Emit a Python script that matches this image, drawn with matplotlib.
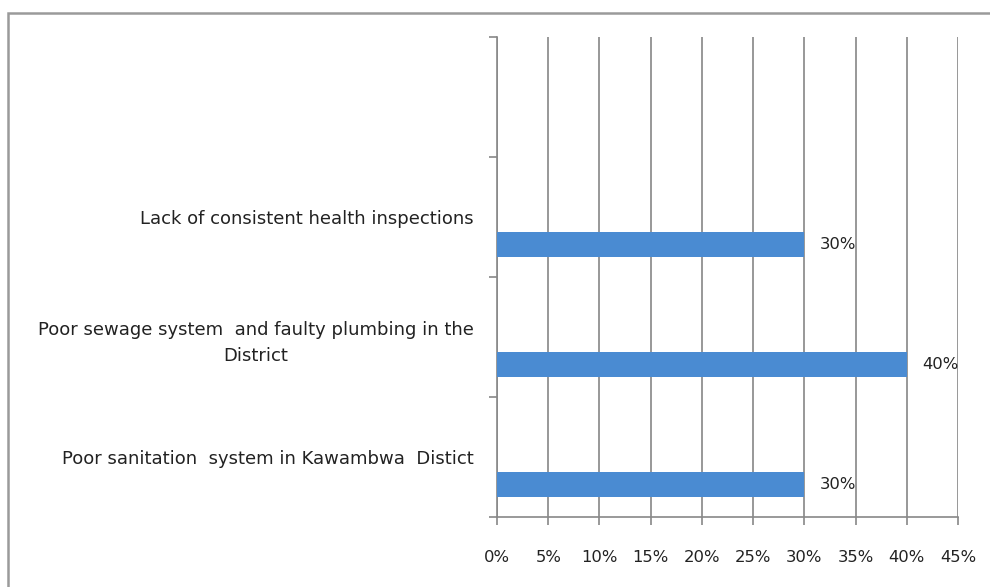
import matplotlib
matplotlib.use("Agg")
import matplotlib.pyplot as plt
import numpy as np
from matplotlib.patches import Rectangle

categories = ["Poor sanitation  system in Kawambwa  Distict",
              "Poor sewage system  and faulty plumbing in the\nDistrict",
              "Lack of consistent health inspections",
              ""]
values = [30, 40, 30]
value_labels = ["30%", "40%", "30%"]
xticks = [0, 5, 10, 15, 20, 25, 30, 35, 40, 45]
xtick_labels = ["0%", "5%", "10%", "15%", "20%", "25%", "30%", "35%", "40%", "45%"]

W, H = 990, 587
fig = plt.figure(figsize=(W / 100, H / 100), dpi=100)
fig.patch.set_facecolor("white")

# outer chart border
fig.patches.append(Rectangle((8 / W, -0.05), 1.2, 1 - 13 / H + 0.05,
                             transform=fig.transFigure, fill=False,
                             edgecolor="#9a9a9a", linewidth=1.8))

ax = fig.add_axes([497 / W, 1 - 517 / H, (958 - 497) / W, (517 - 37) / H])
font = "DejaVu Sans"
fs = 13
fs_x = 11.8
txtcol = "#222222"

ypos = np.arange(len(categories))
bar_offset = -0.23
ax.barh(ypos[:len(values)] + bar_offset, values, height=0.21, color="#4A8BD2", zorder=3)
for y, v, lab in zip(ypos, values, value_labels):
    ax.annotate(lab, (v, y + bar_offset), xytext=(11, 0), textcoords="offset points",
                va="center", ha="left", fontsize=fs_x, family=font, color=txtcol)

ax.set_xlim(0, 45)
ax.set_ylim(-0.5, len(categories) - 0.5)
ax.set_xticks(xticks)
ax.set_xticklabels(xtick_labels, fontsize=fs_x, family=font, color=txtcol)
ax.set_yticks(ypos)
ax.set_yticklabels(categories, fontsize=fs, family=font, color=txtcol,
                   multialignment="center", linespacing=1.6)
ax.set_yticks(np.arange(len(categories) + 1) - 0.5, minor=True)

ax.tick_params(axis="y", which="major", length=0, pad=17)
ax.tick_params(axis="y", which="minor", length=6, width=1.2, color="#888888", direction="out")
ax.tick_params(axis="x", length=6, width=1.2, color="#888888", pad=18)

ax.grid(axis="x", color="#909090", linewidth=1.3, zorder=0)
ax.set_axisbelow(True)
for s in ["top", "right"]:
    ax.spines[s].set_visible(False)
for s in ["left", "bottom"]:
    ax.spines[s].set_color("#888888")
    ax.spines[s].set_linewidth(1.2)

fig.savefig("out.png", dpi=100, facecolor="white")
